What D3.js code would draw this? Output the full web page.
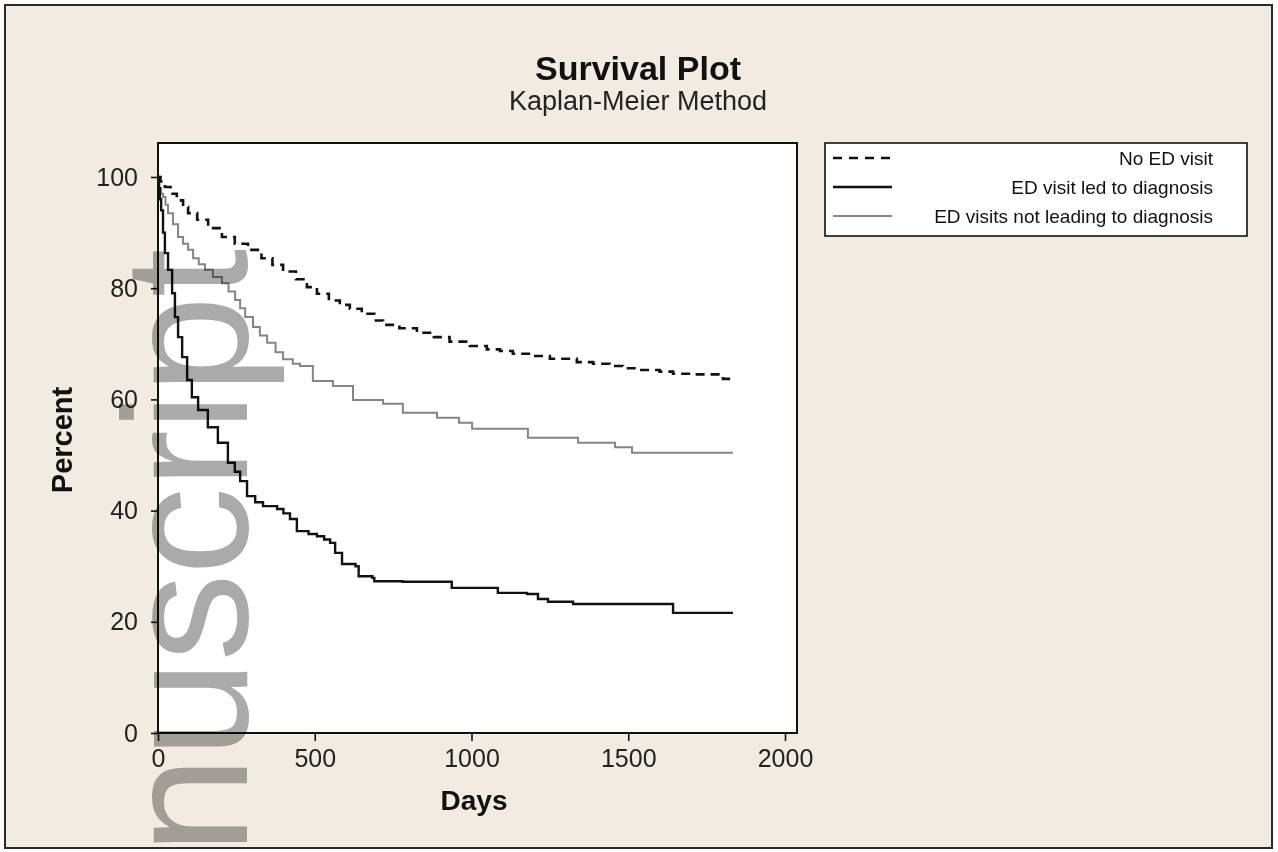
<!DOCTYPE html>
<html>
<head>
<meta charset="utf-8">
<script src="https://cdn.jsdelivr.net/npm/d3@7"></script>
<style>
  body { margin: 0; background: #fff; }
  text { font-family: "Liberation Sans", Arial, sans-serif; }
</style>
</head>
<body>
<div id="chart"></div>
<script>
// Kaplan-Meier curves (days, percent surviving)
var noVisitDays = [0, 8, 22, 40, 60, 80, 96, 125, 160, 204, 245, 287, 330, 365, 399, 440, 475, 507, 545, 580, 612, 650, 690, 718, 770, 826, 880, 930, 995, 1049, 1091, 1132, 1190, 1250, 1336, 1388, 1440, 1483, 1537, 1600, 1643, 1700, 1802, 1834];
var noVisitPct  = [100, 99.2, 98.2, 97, 95.8, 94.6, 93.5, 92.3, 90.8, 89.2, 88, 86.9, 85.4, 84.2, 83, 81.6, 80.2, 79, 77.8, 77, 76.3, 75.4, 74.2, 73.4, 72.8, 72, 71.2, 70.4, 69.6, 69, 68.7, 68.2, 67.8, 67.3, 66.7, 66.4, 66, 65.6, 65.3, 65, 64.6, 64.5, 63.7, 63.7];

var ledDays = [0, 3, 6, 10, 16, 22, 32, 45, 54, 64, 77, 93, 108, 128, 159, 191, 223, 245, 262, 284, 310, 335, 380, 400, 421, 443, 480, 507, 530, 549, 565, 587, 630, 640, 684, 690, 780, 937, 1084, 1177, 1212, 1244, 1324, 1643, 1834];
var ledPct  = [100, 98, 96, 94, 90, 86.3, 83.3, 79.1, 74.8, 71.2, 67.6, 63.5, 60.4, 58.1, 55, 52.2, 48.6, 47, 45.3, 42.6, 41.5, 40.8, 40.3, 39.5, 38.5, 36.3, 35.8, 35.4, 34.8, 34.2, 32.4, 30.4, 30, 28.2, 27.9, 27.3, 27.2, 26.1, 25.2, 25, 24.1, 23.6, 23.2, 21.6, 21.6];

var notLedDays = [0, 4, 10, 16, 24, 32, 48, 64, 80, 96, 112, 130, 150, 175, 204, 225, 246, 262, 278, 303, 325, 348, 375, 399, 430, 453, 494, 558, 622, 718, 781, 890, 960, 1002, 1180, 1340, 1458, 1512, 1834];
var notLedPct  = [100, 98, 97, 96.4, 95, 93.5, 91.5, 89.2, 88, 86.9, 85.4, 84.3, 83.3, 82, 80.9, 79.4, 77.9, 76.4, 74.8, 73, 71.5, 70.2, 68.5, 67.2, 66.4, 66, 63.3, 62.4, 59.9, 59.2, 57.6, 56.7, 55.8, 54.7, 53.1, 52.2, 51.4, 50.4, 50.4];

var seriesNames = ["No ED visit", "ED visit led to diagnosis", "ED visits not leading to diagnosis"];
var xTicks = [0, 500, 1000, 1500, 2000];
var yTicks = [0, 20, 40, 60, 80, 100];

var width = 1278, height = 852;

var svg = d3.select("#chart").append("svg")
  .attr("width", width)
  .attr("height", height);

// outer panel
svg.append("rect")
  .attr("x", 5).attr("y", 5)
  .attr("width", 1267).attr("height", 843)
  .attr("fill", "#f1ebe2")
  .attr("stroke", "#2a2a2a")
  .attr("stroke-width", 2);

// plot frame
var frame = {left: 158, right: 797, top: 143, bottom: 733};

var x = d3.scaleLinear().domain([0, 2000]).range([158, 785]);
var y = d3.scaleLinear().domain([0, 100]).range([733, 177]);

svg.append("rect")
  .attr("x", frame.left).attr("y", frame.top)
  .attr("width", frame.right - frame.left)
  .attr("height", frame.bottom - frame.top)
  .attr("fill", "#fff");

// axes
var xAxis = svg.append("g")
  .attr("transform", "translate(0," + frame.bottom + ")")
  .call(d3.axisBottom(x).tickValues(xTicks).tickFormat(d3.format("d")).tickSize(8).tickPadding(8));
var yAxis = svg.append("g")
  .attr("transform", "translate(" + frame.left + ",0)")
  .call(d3.axisLeft(y).tickValues(yTicks).tickFormat(d3.format("d")).tickSize(7).tickPadding(13));

[xAxis, yAxis].forEach(function(g) {
  g.select(".domain").remove();
  g.selectAll("line").attr("stroke", "#111").attr("stroke-width", 1.6);
  g.selectAll("text")
    .style("font-family", "'Liberation Sans', Arial, sans-serif")
    .style("font-size", "25px")
    .style("fill", "#222");
});

// curves
var line = d3.line()
  .x(function(d) { return x(d[0]); })
  .y(function(d) { return y(d[1]); })
  .curve(d3.curveStepAfter);

function pairs(days, pct) {
  return days.map(function(d, i) { return [d, pct[i]]; });
}

var curves = [
  {name: seriesNames[0], data: pairs(noVisitDays, noVisitPct), color: "#111", width: 2.6, dash: "9,6"},
  {name: seriesNames[1], data: pairs(ledDays, ledPct), color: "#111", width: 2.4, dash: null},
  {name: seriesNames[2], data: pairs(notLedDays, notLedPct), color: "#858585", width: 2, dash: null}
];

curves.slice().reverse().forEach(function(c) {
  svg.append("path")
    .attr("fill", "none")
    .attr("stroke", c.color)
    .attr("stroke-width", c.width)
    .attr("stroke-dasharray", c.dash)
    .attr("d", line(c.data));
});

// frame border on top
svg.append("rect")
  .attr("x", frame.left).attr("y", frame.top)
  .attr("width", frame.right - frame.left)
  .attr("height", frame.bottom - frame.top)
  .attr("fill", "none")
  .attr("stroke", "#111")
  .attr("stroke-width", 2);

// titles
svg.append("text")
  .attr("x", 638).attr("y", 80)
  .attr("text-anchor", "middle")
  .style("font-size", "34px").style("font-weight", "bold")
  .style("fill", "#111")
  .text("Survival Plot");
svg.append("text")
  .attr("x", 638).attr("y", 110)
  .attr("text-anchor", "middle")
  .style("font-size", "27px")
  .style("fill", "#222")
  .text("Kaplan-Meier Method");

svg.append("text")
  .attr("x", 474).attr("y", 810)
  .attr("text-anchor", "middle")
  .style("font-size", "28px").style("font-weight", "bold")
  .style("fill", "#111")
  .text("Days");
svg.append("text")
  .attr("transform", "translate(72,440) rotate(-90)")
  .attr("text-anchor", "middle")
  .style("font-size", "29px").style("font-weight", "bold")
  .style("fill", "#111")
  .text("Percent");

// legend
var legend = svg.append("g");
legend.append("rect")
  .attr("x", 825).attr("y", 143)
  .attr("width", 422).attr("height", 93)
  .attr("fill", "#fff")
  .attr("stroke", "#111")
  .attr("stroke-width", 1.6);

var rowY = d3.scalePoint().domain(seriesNames).range([158, 216]);

curves.forEach(function(c) {
  legend.append("line")
    .attr("x1", 833).attr("x2", 892)
    .attr("y1", rowY(c.name)).attr("y2", rowY(c.name))
    .attr("stroke", c.color)
    .attr("stroke-width", c.width)
    .attr("stroke-dasharray", c.dash ? "9,7" : null);
  legend.append("text")
    .attr("x", 1213).attr("y", rowY(c.name) + 7)
    .attr("text-anchor", "end")
    .style("font-size", "19px")
    .style("fill", "#111")
    .text(c.name);
});

// watermark
svg.append("text")
  .attr("transform", "translate(247,250) rotate(-90)")
  .attr("text-anchor", "end")
  .style("font-size", "176px")
  .style("letter-spacing", "-1.5px")
  .style("mix-blend-mode", "multiply")
  .style("fill", "#aaaaaa")
  .text("nuscript");
</script>
</body>
</html>
